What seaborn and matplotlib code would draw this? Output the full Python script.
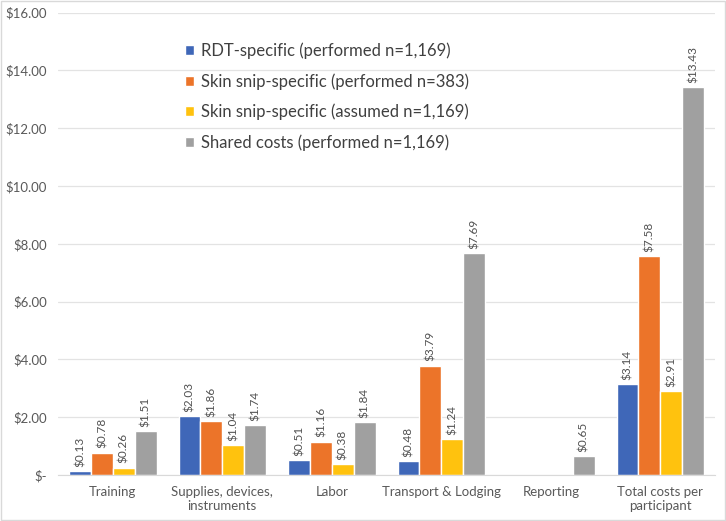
import numpy as np
import pandas as pd
import seaborn as sns
from matplotlib import pyplot as plt
from matplotlib.ticker import FuncFormatter

categories = ["Training", "Supplies, devices,\ninstruments", "Labor",
              "Transport & Lodging", "Reporting", "Total costs per\nparticipant"]
series = ["RDT-specific (performed n=1,169)",
          "Skin snip-specific (performed n=383)",
          "Skin snip-specific (assumed n=1,169)",
          "Shared costs (performed n=1,169)"]
rdt = [0.13, 2.03, 0.51, 0.48, None, 3.14]
snip_performed = [0.78, 1.86, 1.16, 3.79, None, 7.58]
snip_assumed = [0.26, 1.04, 0.38, 1.24, None, 2.91]
shared = [1.51, 1.74, 1.84, 7.69, 0.65, 13.43]
colors = ["#3F67B8", "#EC7429", "#FFC20E", "#A0A0A0"]

rows = []
for name, vals in zip(series, [rdt, snip_performed, snip_assumed, shared]):
    for cat, v in zip(categories, vals):
        if v is not None:
            rows.append({"category": cat, "series": name, "cost": v})
df = pd.DataFrame(rows)

sns.set_style("white")
plt.rcParams["font.family"] = ["Lato", "DejaVu Sans"]

fig = plt.figure(figsize=(7.26, 5.21), dpi=100)
ax = fig.add_axes([0.08, 0.088, 0.905, 0.888])

sns.barplot(data=df, x="category", y="cost", hue="series",
            order=categories, hue_order=series, palette=colors,
            width=0.8, saturation=1, ax=ax)

for cont in ax.containers:
    ax.bar_label(cont, labels=[f"${b.get_height():.2f}" for b in cont],
                 rotation=90, padding=3, fontsize=8.5, color="#505050")

ax.set_ylim(0, 16)
ax.set_yticks(np.arange(0, 17, 2))
ax.yaxis.set_major_formatter(FuncFormatter(lambda v, p: "$-" if v == 0 else f"${v:.2f}"))
ax.grid(axis="y", color="#E3E3E3", linewidth=0.9)
ax.set_axisbelow(True)
for s in ["top", "right", "left"]:
    ax.spines[s].set_visible(False)
ax.spines["bottom"].set_color("#D9D9D9")
ax.tick_params(axis="both", length=0, labelsize=9.5, colors="#595959", pad=8)
ax.set_xlabel("")
ax.set_ylabel("")

ax.legend(loc="upper left", bbox_to_anchor=(0.17, 0.968), frameon=False,
          fontsize=12, handlelength=0.55, handleheight=0.55, handletextpad=0.4,
          labelspacing=0.85, labelcolor="#404040")

fig.patches.append(plt.Rectangle((0.002, 0.002), 0.996, 0.996, transform=fig.transFigure,
                                 fill=False, edgecolor="#D9D9D9", linewidth=1))
fig.savefig("out.png", dpi=100)
